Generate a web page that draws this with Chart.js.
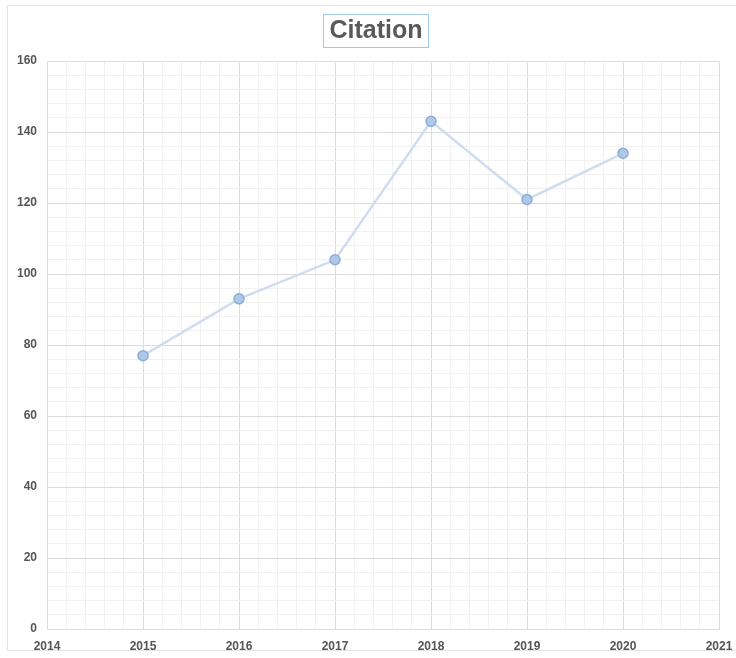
<!DOCTYPE html>
<html>
<head>
<meta charset="utf-8">
<style>
  html, body { margin: 0; padding: 0; background: #ffffff; }
  #wrap { position: relative; width: 736px; height: 658px; }
</style>
<script src="https://cdn.jsdelivr.net/npm/chart.js@4/dist/chart.umd.min.js"></script>
</head>
<body>
<div id="wrap"><canvas id="chart" width="736" height="658"></canvas></div>
<script>
// Citation counts per year
const chartTitle = 'Citation';
const years = [2015, 2016, 2017, 2018, 2019, 2020];
const citations = [77, 93, 104, 143, 121, 134];
const xRange = [2014, 2021];
const yRange = [0, 160];

const isMultiple = (v, step) => Math.abs(v / step - Math.round(v / step)) < 1e-6;

// Outer frame and the boxed heading above the plot
const framePlugin = {
  id: 'frame',
  beforeDraw(chart) {
    const ctx = chart.ctx;
    ctx.save();
    ctx.strokeStyle = '#e4e4e4';
    ctx.lineWidth = 1;
    ctx.strokeRect(7.5, 5.5, 740, 645);
    ctx.restore();
  },
  afterDraw(chart) {
    const ctx = chart.ctx;
    const cx = 376, cy = 31;
    ctx.save();
    ctx.font = 'bold 25px "Liberation Sans", Arial, sans-serif';
    ctx.fillStyle = '#595959';
    ctx.textAlign = 'center';
    ctx.textBaseline = 'middle';
    ctx.fillText(chartTitle, cx, cy);
    const w = ctx.measureText(chartTitle).width;
    ctx.strokeStyle = '#a4c6e8';
    ctx.lineWidth = 1;
    ctx.strokeRect(Math.round(cx - w / 2 - 6) + 0.5, 14.5, Math.round(w + 12), 33);
    ctx.restore();
  }
};

new Chart(document.getElementById('chart'), {
  type: 'line',
  data: {
    datasets: [{
      label: chartTitle,
      data: years.map((y, i) => ({ x: y, y: citations[i] })),
      borderColor: '#d2dcf0',
      borderWidth: 2.5,
      pointRadius: 5,
      pointHoverRadius: 5,
      pointBackgroundColor: '#b0c8e8',
      pointBorderColor: '#8aaed8',
      pointBorderWidth: 1.5,
      tension: 0
    }]
  },
  options: {
    responsive: false,
    animation: false,
    layout: { padding: { left: 0, right: 17, top: 61, bottom: 4 } },
    plugins: {
      legend: { display: false },
      tooltip: { enabled: false },
      title: { display: false }
    },
    scales: {
      x: {
        type: 'linear',
        min: xRange[0],
        max: xRange[1],
        afterFit(s) { s.height = 25; s.paddingLeft = 0; s.paddingRight = 0; },
        ticks: {
          stepSize: 0.2,
          autoSkip: false,
          maxRotation: 0,
          padding: 10,
          color: '#555555',
          font: { family: '"Liberation Sans", Arial, sans-serif', size: 12, weight: 'bold' },
          callback: v => isMultiple(v, 1) ? String(Math.round(v)) : ''
        },
        grid: {
          drawTicks: false,
          color: c => isMultiple(c.tick.value, 1) ? '#dcdcdc' : '#f1f1f1',
          lineWidth: 1
        },
        border: { color: '#dcdcdc' }
      },
      y: {
        min: yRange[0],
        max: yRange[1],
        afterFit(s) { s.width = 47; s.paddingTop = 0; s.paddingBottom = 0; },
        ticks: {
          stepSize: 4,
          autoSkip: false,
          padding: 10,
          color: '#555555',
          font: { family: '"Liberation Sans", Arial, sans-serif', size: 12, weight: 'bold' },
          callback: v => isMultiple(v, 20) ? String(Math.round(v)) : ''
        },
        grid: {
          drawTicks: false,
          color: c => isMultiple(c.tick.value, 20) ? '#dcdcdc' : '#f1f1f1',
          lineWidth: 1
        },
        border: { color: '#dcdcdc' }
      }
    }
  },
  plugins: [framePlugin]
});
</script>
</body>
</html>
